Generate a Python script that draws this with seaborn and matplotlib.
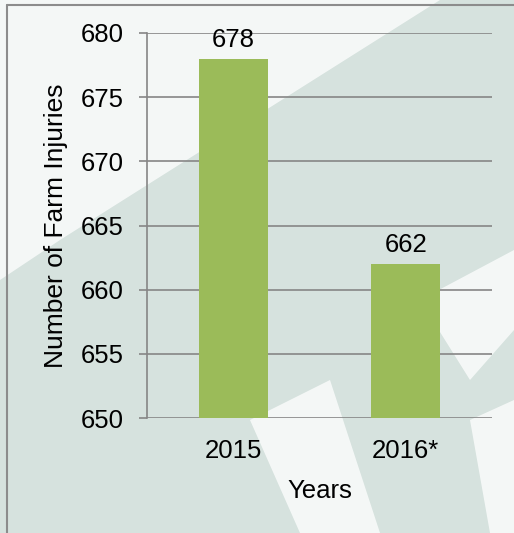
"""
Farm injuries by year - bar chart
"""

import matplotlib
matplotlib.use("Agg")
import matplotlib.pyplot as plt
from matplotlib.lines import Line2D
from matplotlib.patches import Polygon
import seaborn as sns
import pandas as pd

years = ['2015', '2016*']
injuries = [678, 662]
y_ticks = [650, 655, 660, 665, 670, 675, 680]

bar_color = '#9bbb59'
grid_color = '#868686'
bg_color = '#d6e2de'
fs = 18.5

sns.set_theme(style='white')
plt.rcParams['font.family'] = ['Liberation Sans', 'DejaVu Sans']

df = pd.DataFrame({'Year': years, 'Injuries': injuries})

W, H = 514, 533
fig = plt.figure(figsize=(W / 100, H / 100), dpi=100)
fig.patch.set_facecolor(bg_color)

# faint watermark shapes behind the chart
def px(points):
    return [(x / W, 1 - y / H) for x, y in points]

for pts in [
    [(0, 0), (440, 0), (60, 240), (0, 280)],
    [(250, 420), (330, 380), (380, 533), (300, 533)],
    [(420, 300), (514, 250), (514, 330), (470, 380)],
    [(470, 420), (514, 400), (514, 533), (490, 533)],
]:
    fig.add_artist(Polygon(px(pts), closed=True, transform=fig.transFigure,
                           facecolor='white', edgecolor='none', alpha=0.75, zorder=-5))

# figure border (left and top)
fig.add_artist(Line2D([7 / W, 7 / W], [0, 1 - 5 / H], transform=fig.transFigure,
                      color='#8c8c8c', lw=1.5, zorder=-4))
fig.add_artist(Line2D([7 / W, 1], [1 - 5 / H, 1 - 5 / H], transform=fig.transFigure,
                      color='#8c8c8c', lw=1.5, zorder=-4))

ax = fig.add_axes([147 / W, 1 - 418 / H, (492 - 147) / W, (418 - 33) / H])
ax.set_zorder(1)
ax.set_facecolor('none')

sns.barplot(data=df, x='Year', y='Injuries', color=bar_color, width=0.4,
            saturation=1, linewidth=0, ax=ax, zorder=3)

ax.set_ylim(650, 680)
ax.set_yticks(y_ticks)
ax.yaxis.grid(True, color=grid_color, lw=1.2)
ax.set_axisbelow(True)
for side in ['top', 'right', 'bottom']:
    ax.spines[side].set_visible(False)
ax.spines['left'].set_color(grid_color)
ax.spines['left'].set_linewidth(1.2)

ax.tick_params(axis='y', which='major', left=True, length=6, width=1.2,
               color=grid_color, labelsize=fs, pad=11, labelcolor='black')
ax.tick_params(axis='x', bottom=False, labelsize=fs, pad=9, labelcolor='black')

for i, v in enumerate(injuries):
    ax.annotate(str(v), (i, v), xytext=(0, 5), textcoords='offset points',
                ha='center', va='bottom', fontsize=fs, color='black')

ax.set_xlabel('Years', fontsize=fs, color='black', labelpad=12)
ax.set_ylabel('Number of Farm Injuries', fontsize=19, color='black', labelpad=9)

fig.savefig('out.png', dpi=100, facecolor=fig.get_facecolor())
